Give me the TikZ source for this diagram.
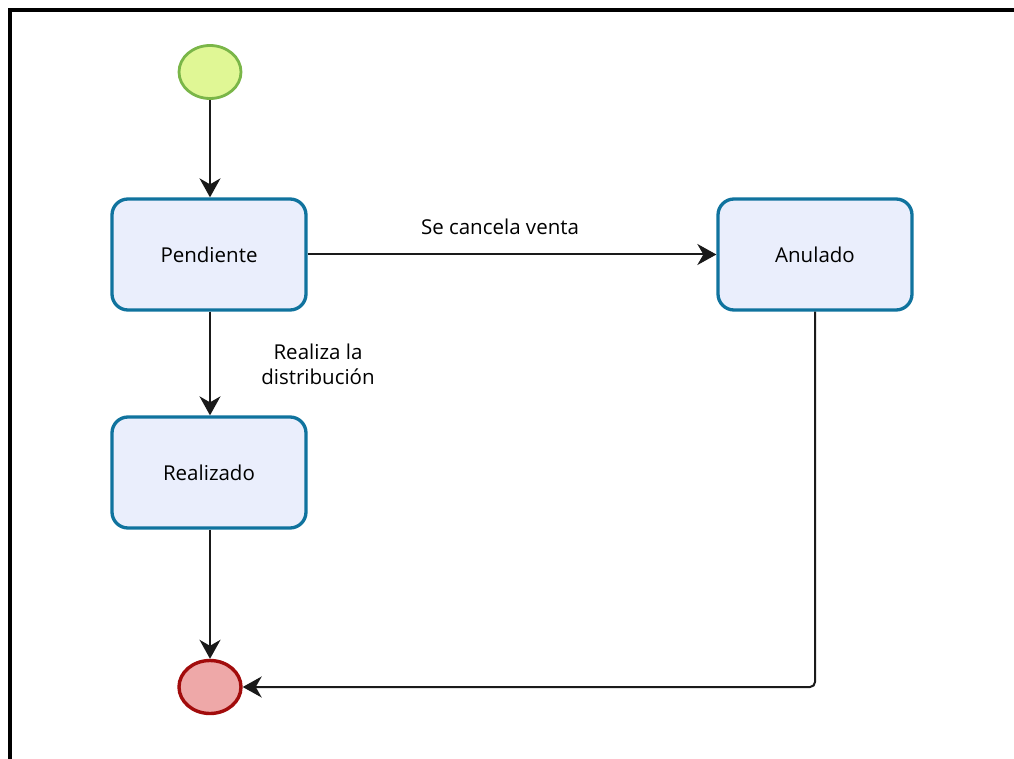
\documentclass[tikz,border=0pt]{standalone}
\usepackage{fontspec}
\setmainfont{Open Sans}
\usetikzlibrary{shapes.geometric,arrows.meta}
\definecolor{startfill}{HTML}{E0F795}
\definecolor{startline}{HTML}{7AB648}
\definecolor{endfill}{HTML}{EEA8A8}
\definecolor{endline}{HTML}{A20C0C}
\definecolor{statefill}{HTML}{EAEEFC}
\definecolor{stateline}{HTML}{10739E}
\definecolor{flowline}{HTML}{1A1A1A}
\tikzset{
  statebox/.style={draw=stateline, fill=statefill, line width=3.3pt, rounded corners=16pt,
    minimum width=194pt, minimum height=111pt, inner sep=0pt, font=\fontsize{20.5}{25}\selectfont},
  startev/.style={ellipse, draw=startline, fill=startfill, line width=2.8pt,
    minimum width=62pt, minimum height=53pt, inner sep=0pt},
  endev/.style={ellipse, draw=endline, fill=endfill, line width=3.4pt,
    minimum width=62pt, minimum height=53pt, inner sep=0pt},
  flow/.style={draw=flowline, line width=2pt, -{Stealth[length=19pt,width=21pt,inset=6pt]}},
  flowlabel/.style={font=\fontsize{20.5}{25}\selectfont, align=center, inner sep=0pt}
}
\begin{document}
\begin{tikzpicture}[x=1pt,y=-1pt]
  \useasboundingbox (0,0) rectangle (1014,759);
  % outer frame, top and left edges
  \draw[line width=4pt] (10,760) -- (10,10) -- (1015,10);

  % states
  \node[startev] (start) at (210,72) {};
  \node[statebox] (pend) at (209,254.5) {Pendiente};
  \node[statebox] (real) at (209,472.5) {Realizado};
  \node[statebox] (anul) at (815,254.5) {Anulado};
  \node[endev] (fin) at (210,687) {};

  % transitions
  \draw[flow] (start) -- (pend.north -| start);
  \draw[flow] (pend.south -| start) -- (real.north -| start);
  \draw[flow] (real.south -| start) -- (fin);
  \draw[flow] (pend.east) -- (anul.west);
  \draw[flow, rounded corners=5pt] (anul.south) |- (fin.east);

  % labels
  \node[flowlabel] (lcancel) at (500,227) {Se cancela venta};
  \node[flowlabel] (ldistr) at (318,364) {Realiza la\\distribución};
\end{tikzpicture}
\end{document}
